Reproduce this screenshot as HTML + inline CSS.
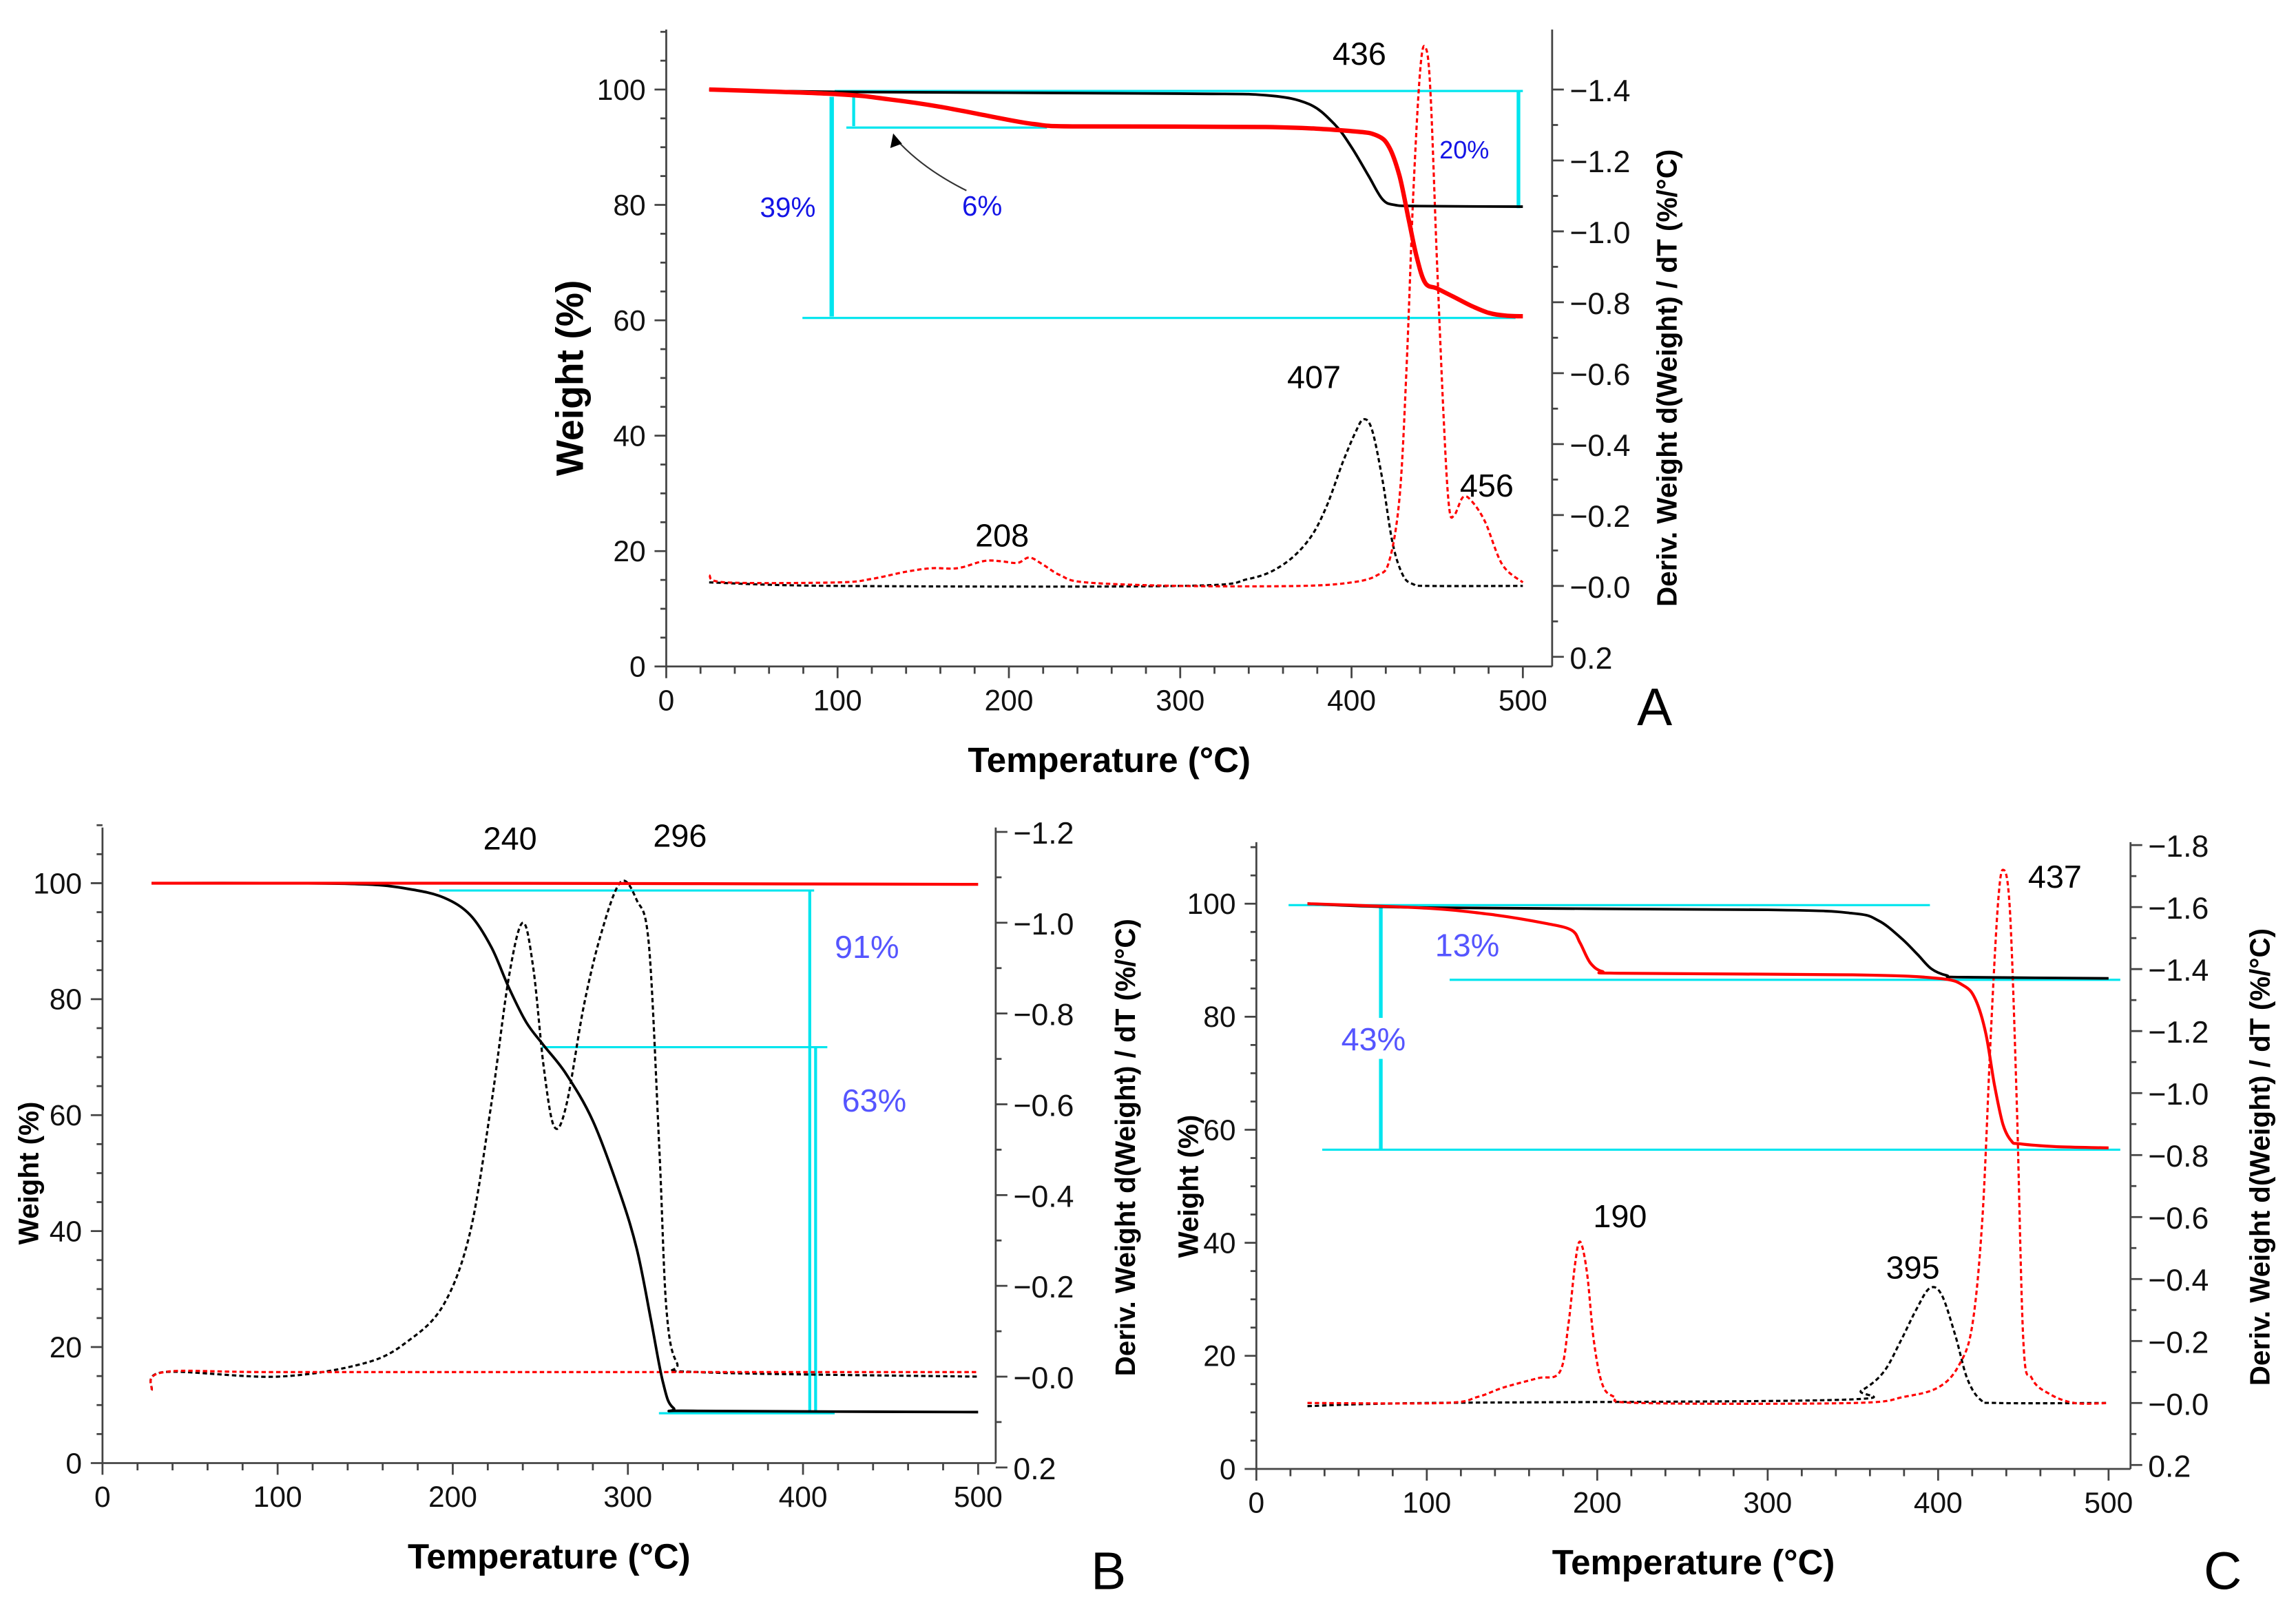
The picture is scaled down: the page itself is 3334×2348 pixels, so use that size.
<!DOCTYPE html>
<html><head><meta charset="utf-8">
<style>
html,body{margin:0;padding:0;background:#fff;}
svg{display:block;}
text{font-family:"Liberation Sans",Arial,sans-serif;}
</style></head>
<body>
<svg id="fig" width="3334" height="2348" viewBox="0 0 1568 1104" xmlns="http://www.w3.org/2000/svg">
<rect width="1568" height="1104" fill="#fff"/>
<g id="static">
  <line x1="570" y1="62" x2="1040" y2="62" stroke="#00e5ee" stroke-width="1.5"/>
  <line x1="1037" y1="62" x2="1037" y2="142" stroke="#00e5ee" stroke-width="2.5"/>
  <line x1="578" y1="87" x2="715" y2="87" stroke="#00e5ee" stroke-width="1.5"/>
  <line x1="583" y1="66" x2="583" y2="86" stroke="#00e5ee" stroke-width="2"/>
  <line x1="568" y1="66" x2="568" y2="216" stroke="#00e5ee" stroke-width="3"/>
  <line x1="548" y1="217" x2="1035" y2="217" stroke="#00e5ee" stroke-width="1.5"/>
  <path d="M660,130 Q630,115 612,95" fill="none" stroke="#333" stroke-width="1"/>
  <polygon points="610,91 608,101 616,98" fill="#000"/>
  <text x="519" y="148" font-size="19" fill="#1414e6">39%</text>
  <text x="657" y="147" font-size="19" fill="#1414e6">6%</text>
  <text x="983" y="108" font-size="17" fill="#1414e6">20%</text>
  <text x="910" y="44" font-size="22">436</text>
  <text x="879" y="265" font-size="22">407</text>
  <text x="997" y="339" font-size="22">456</text>
  <text x="666" y="373" font-size="22">208</text>
  <text x="1118" y="495" font-size="36">A</text>
  <line x1="300" y1="608" x2="556" y2="608" stroke="#00e5ee" stroke-width="1.5"/>
  <line x1="553" y1="608" x2="553" y2="965" stroke="#00e5ee" stroke-width="2"/>
  <line x1="370" y1="715" x2="565" y2="715" stroke="#00e5ee" stroke-width="1.5"/>
  <line x1="557" y1="715" x2="557" y2="965" stroke="#00e5ee" stroke-width="2"/>
  <line x1="450" y1="965" x2="570" y2="965" stroke="#00e5ee" stroke-width="1.5"/>
  <text x="570" y="654" font-size="22" fill="#5555ff">91%</text>
  <text x="575" y="759" font-size="22" fill="#5555ff">63%</text>
  <text x="330" y="580" font-size="22">240</text>
  <text x="446" y="578" font-size="22">296</text>
  <text x="745" y="1085" font-size="36">B</text>
  <line x1="880" y1="618" x2="1318" y2="618" stroke="#00e5ee" stroke-width="1.5"/>
  <line x1="943" y1="618" x2="943" y2="785" stroke="#00e5ee" stroke-width="2.5"/>
  <line x1="990" y1="669" x2="1448" y2="669" stroke="#00e5ee" stroke-width="1.5"/>
  <line x1="903" y1="785" x2="1448" y2="785" stroke="#00e5ee" stroke-width="1.5"/>
  <rect x="915" y="695" width="50" height="28" fill="#fff"/>
  <text x="916" y="717" font-size="22" fill="#5555ff">43%</text>
  <text x="980" y="653" font-size="22" fill="#5555ff">13%</text>
  <text x="1088" y="838" font-size="22">190</text>
  <text x="1288" y="873" font-size="22">395</text>
  <text x="1385" y="606" font-size="22">437</text>
  <text x="1505" y="1085" font-size="36">C</text>
</g>
<g id="plots"></g>
</svg>
<script>
// ---- Panel A data ----
const aBlackW_T = [25,100,300,350,375,390,400,410,418,425,440,500];
const aBlackW_V = [100,99.6,99.3,99,97.5,94,90,85,81,80,79.8,79.7];
const aRedW_T = [25,100,130,160,190,215,240,350,400,415,422,428,433,438,443,450,460,470,480,490,500];
const aRedW_V = [100,99.2,98.3,97,95.3,94,93.6,93.5,92.8,92,90,85,78,71,66.5,65.5,64,62.5,61.3,60.8,60.7];
const aBlackD_T = [25,100,300,340,360,375,385,395,402,407,412,418,424,430,436,445,500];
const aBlackD_V = [-0.01,0.0,-0.0,-0.02,-0.06,-0.13,-0.22,-0.35,-0.43,-0.47,-0.44,-0.3,-0.12,-0.03,-0.005,0.0,0.0];
const aRedD_T = [25,35,100,120,140,155,170,185,195,205,212,220,230,245,300,370,400,415,422,428,432,436,440,443,446,450,454,457,460,465,470,478,488,500];
const aRedD_V = [-0.03,-0.01,-0.01,-0.02,-0.04,-0.05,-0.05,-0.07,-0.07,-0.065,-0.08,-0.06,-0.03,-0.01,0.0,0.0,-0.01,-0.03,-0.07,-0.25,-0.6,-1.1,-1.45,-1.52,-1.4,-0.9,-0.45,-0.22,-0.2,-0.25,-0.24,-0.18,-0.06,-0.01];
// ---- Panel B data ----
const bBlackW_T = [28,100,150,175,195,210,222,232,242,252,265,280,295,305,313,320,326,340,500];
const bBlackW_V = [100,100,99.8,99,97.5,94.5,89,82,76,72,67,59,47,37,25,14,9.5,9,8.8];
const bRedW_T = [28,200,500];
const bRedW_V = [100,100,99.8];
const bBlackD_T = [28,35,100,150,175,195,210,222,232,240,246,252,258,265,275,285,296,305,312,318,322,328,340,500];
const bBlackD_V = [0.03,-0.01,-0.0,-0.03,-0.08,-0.16,-0.32,-0.6,-0.88,-1.0,-0.9,-0.68,-0.55,-0.6,-0.82,-0.98,-1.09,-1.05,-0.95,-0.5,-0.15,-0.03,-0.01,-0.0];
const bRedD_T = [28,35,100,300,500];
const bRedD_V = [0.03,-0.01,-0.01,-0.01,-0.01];
// ---- Panel C data ----
const cBlackW_T = [30,100,300,350,365,378,388,396,405,415,500];
const cBlackW_V = [100,99.3,98.9,98.3,97,94,91,88.5,87.3,87,86.8];
const cRedW_T = [30,100,140,170,185,190,196,203,215,350,400,415,422,428,433,438,443,448,470,500];
const cRedW_V = [100,99.2,98,96.5,95.3,93,89.5,88,87.7,87.4,86.8,85.5,83,77,68,61,58,57.5,57,56.8];
const cBlackD_T = [30,100,340,355,368,378,387,395,402,410,417,425,435,500];
const cBlackD_V = [0.01,0.0,-0.01,-0.04,-0.1,-0.2,-0.3,-0.37,-0.35,-0.22,-0.08,-0.01,0.0,0.0];
const cRedD_T = [30,110,130,145,165,178,183,187,190,194,198,203,210,225,350,380,400,412,420,426,431,435,438,442,446,450,455,465,480,500];
const cRedD_V = [0.0,0.0,-0.02,-0.05,-0.08,-0.1,-0.25,-0.45,-0.52,-0.42,-0.2,-0.06,-0.02,0.0,0.0,-0.02,-0.05,-0.12,-0.25,-0.6,-1.2,-1.6,-1.72,-1.6,-1.0,-0.2,-0.08,-0.03,0.0,0.0];

const NS = "http://www.w3.org/2000/svg";
const root = document.getElementById('plots');
function mk(tag, attrs, parent){
  const e = document.createElementNS(NS, tag);
  for (const k in attrs) e.setAttribute(k, attrs[k]);
  (parent||root).appendChild(e);
  return e;
}
function smoothPath(pts){
  let d = 'M' + pts[0][0].toFixed(1) + ',' + pts[0][1].toFixed(1);
  for (let i=0;i<pts.length-1;i++){
    const p0 = pts[Math.max(0,i-1)], p1 = pts[i], p2 = pts[i+1], p3 = pts[Math.min(pts.length-1,i+2)];
    const c1x = p1[0] + (p2[0]-p0[0])/6, c1y = p1[1] + (p2[1]-p0[1])/6;
    const c2x = p2[0] - (p3[0]-p1[0])/6, c2y = p2[1] - (p3[1]-p1[1])/6;
    d += 'C' + c1x.toFixed(1)+','+c1y.toFixed(1)+' '+c2x.toFixed(1)+','+c2y.toFixed(1)+' '+p2[0].toFixed(1)+','+p2[1].toFixed(1);
  }
  return d;
}
function panel(cfg){
  const g = mk('g', {});
  
  
  const sx = t => cfg.x0 + t * (cfg.x500 - cfg.x0) / 500;
  const sy = v => cfg.y0 + v * (cfg.y100 - cfg.y0) / 100;
  const sdy = d => cfg.d0 + (d / cfg.dTopVal) * (cfg.dTop - cfg.d0);
  const ax = mk('g', {stroke:'#444','stroke-width':1.3}, g);
  
  
  mk('line', {x1:cfg.x0, y1:cfg.yAxTop, x2:cfg.x0, y2:cfg.y0}, ax);
  mk('line', {x1:cfg.x0, y1:cfg.y0, x2:cfg.xR, y2:cfg.y0}, ax);
  mk('line', {x1:cfg.xR, y1:cfg.yAxTop, x2:cfg.xR, y2:cfg.y0}, ax);
  for (let t=0; t<=500; t+=20){
    const major = t%100===0;
    mk('line', {x1:sx(t), y1:cfg.y0, x2:sx(t), y2:cfg.y0+(major?8:5)}, ax);
  }
  for (let t=0; t<=500; t+=100){
    const tx = mk('text', {x:sx(t), y:cfg.y0+30, 'font-size':20, 'text-anchor':'middle', fill:'#111', stroke:'none'}, g);
    tx.textContent = t;
    
    
  }
  for (let v=0; v<=cfg.yMax; v+=5){
    const major = v%20===0;
    mk('line', {x1:cfg.x0, y1:sy(v), x2:cfg.x0-(major?8:4), y2:sy(v)}, ax);
  }
  for (let v=0; v<=100; v+=20){
    const tx = mk('text', {x:cfg.x0-14, y:sy(v)+7, 'font-size':20, 'text-anchor':'end', fill:'#111', stroke:'none'}, g);
    tx.textContent = v;
    
    
  }
  const steps = Math.round(-cfg.dTopVal/0.2);
  for (let i=-1; i<=steps; i++){
    const d = -0.2*i;
    mk('line', {x1:cfg.xR, y1:sdy(d), x2:cfg.xR+8, y2:sdy(d)}, ax);
    if (i < steps) mk('line', {x1:cfg.xR, y1:sdy(d-0.1), x2:cfg.xR+4, y2:sdy(d-0.1)}, ax);
    const tx = mk('text', {x:cfg.xR+12, y:sdy(d)+8, 'font-size':21, fill:'#111', stroke:'none'}, g);
    tx.textContent = (i===-1 ? '0.2' : (i===0 ? '\u22120.0' : '\u2212'+(0.2*i).toFixed(1)));
    
    
  }
  const xt = mk('text', {x:(cfg.x0+cfg.xR)/2, y:cfg.y0+72, 'font-size':cfg.tfs, 'font-weight':'bold', 'text-anchor':'middle'}, g);
  xt.textContent = 'Temperature (\u00B0C)';
  
  
  const yt = mk('text', {x:0, y:0, 'font-size':cfg.yfs, 'font-weight':'bold', 'text-anchor':'middle', transform:`translate(${cfg.ytx},${(cfg.y0+cfg.y100)/2}) rotate(-90)`}, g);
  yt.textContent = 'Weight (%)';
  
  
  const rt = mk('text', {x:0, y:0, 'font-size':19, 'font-weight':'bold', 'text-anchor':'middle', transform:`translate(${cfg.rtx},${(cfg.dTop+cfg.y0)/2}) rotate(-90)`}, g);
  rt.textContent = 'Deriv. Weight d(Weight) / dT (%/\u00B0C)';
  
  
  function line(T, V, f, color, w, dash, name){
    const pts = T.map((t,i)=>[sx(t), f(V[i])]);
    const p = mk('path', {d:smoothPath(pts), fill:'none', stroke:color, 'stroke-width':w, 'stroke-linejoin':'round'}, g);
    if (dash) p.setAttribute('stroke-dasharray', dash);
    
    
  }
  line(cfg.bdT, cfg.bdV, sdy, '#000', 1.5, '3,2', 'black-derivative-curve');
  line(cfg.rdT, cfg.rdV, sdy, '#ff0000', 1.5, '3,2', 'red-derivative-curve');
  line(cfg.bwT, cfg.bwV, sy, '#000', cfg.bw, null, 'black-weight-curve');
  line(cfg.rwT, cfg.rwV, sy, '#ff0000', cfg.rw, null, 'red-weight-curve');
}
panel({name:'panel-a', x0:455, x500:1040, xR:1060, y0:455, y100:61, yAxTop:20, yMax:110,
  d0:400, dTop:61, dTopVal:-1.4, tfs:24, yfs:26, ytx:398, rtx:1145,
  bwT:aBlackW_T, bwV:aBlackW_V, rwT:aRedW_T, rwV:aRedW_V, bdT:aBlackD_T, bdV:aBlackD_V, rdT:aRedD_T, rdV:aRedD_V, bw:1.8, rw:3});
panel({name:'panel-b', x0:70, x500:668, xR:680, y0:999, y100:603, yAxTop:565, yMax:110,
  d0:940, dTop:568, dTopVal:-1.2, tfs:24, yfs:19, ytx:26, rtx:775,
  bwT:bBlackW_T, bwV:bBlackW_V, rwT:bRedW_T, rwV:bRedW_V, bdT:bBlackD_T, bdV:bBlackD_V, rdT:bRedD_T, rdV:bRedD_V, bw:1.8, rw:2});
panel({name:'panel-c', x0:858, x500:1440, xR:1455, y0:1003, y100:617, yAxTop:575, yMax:110,
  d0:958, dTop:577, dTopVal:-1.8, tfs:24, yfs:19, ytx:818, rtx:1550,
  bwT:cBlackW_T, bwV:cBlackW_V, rwT:cRedW_T, rwV:cRedW_V, bdT:cBlackD_T, bdV:cBlackD_V, rdT:cRedD_T, rdV:cRedD_V, bw:1.8, rw:2});
</script>
</body></html>
